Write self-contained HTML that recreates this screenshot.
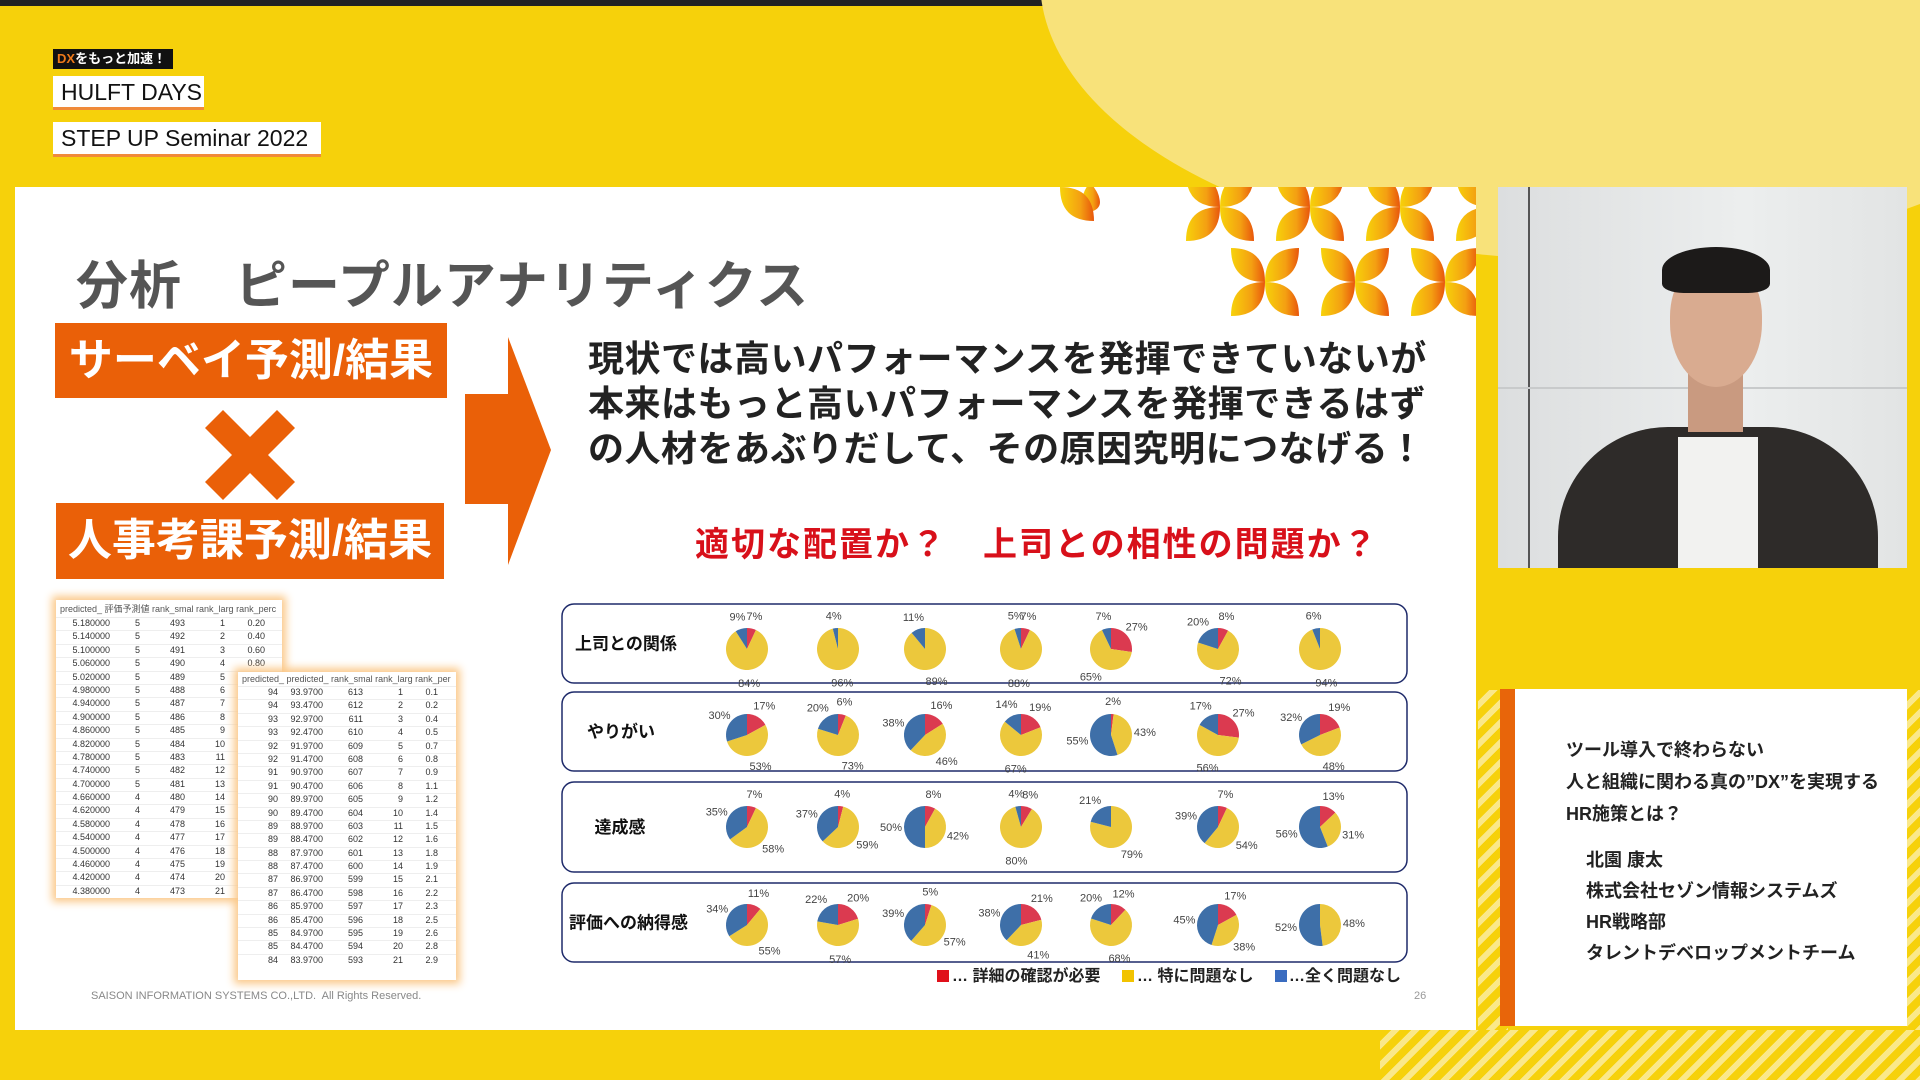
<!DOCTYPE html>
<html><head><meta charset="utf-8">
<style>
*{margin:0;padding:0;box-sizing:border-box}
body{width:1920px;height:1080px;overflow:hidden;position:relative;background:#f6d10b;font-family:"Liberation Sans","Noto Sans CJK JP",sans-serif}
.abs{position:absolute}
.jp{font-family:"Liberation Sans","Noto Sans CJK JP",sans-serif}
</style></head><body>
<div class="abs" style="left:0;top:0;width:1920px;height:6px;background:#222"></div>
<div class="abs" style="left:1040px;top:-300px;width:1100px;height:560px;border-radius:50%;background:#f8e27a"></div>
<div class="abs" style="left:1380px;top:1030px;width:540px;height:50px;background:repeating-linear-gradient(135deg,#f6d10b 0 8px,#fae88a 8px 14px)"></div>
<div class="abs" style="left:1478px;top:690px;width:30px;height:340px;background:repeating-linear-gradient(135deg,#f6d10b 0 8px,#fae88a 8px 14px)"></div>
<div class="abs" style="left:1907px;top:690px;width:13px;height:340px;background:repeating-linear-gradient(135deg,#f6d10b 0 8px,#fae88a 8px 14px)"></div>

<!-- header -->
<div class="abs" style="left:53px;top:49px;width:120px;height:20px;background:#111;color:#fff;font-size:13px;font-weight:bold;line-height:20px;padding-left:4px"><span style="color:#f07a1a">DX</span>をもっと加速！</div>
<div class="abs" style="left:53px;top:76px;width:151px;height:34px;background:#fff;border-bottom:3px solid #f08a3a;font-size:23px;line-height:32px;padding-left:8px;color:#111">HULFT DAYS</div>
<div class="abs" style="left:53px;top:122px;width:268px;height:35px;background:#fff;border-bottom:3px solid #f08a3a;font-size:23px;line-height:33px;padding-left:8px;color:#111">STEP UP Seminar 2022</div>

<!-- slide -->
<div class="abs" style="left:15px;top:187px;width:1461px;height:843px;background:#fff"></div>
<svg class="abs" style="left:1060px;top:187px" width="416" height="132" viewBox="0 0 416 132">
<defs><linearGradient id="pg" x1="0" x2="1"><stop offset="0" stop-color="#f7d20a"/><stop offset="0.6" stop-color="#f4a012"/><stop offset="1" stop-color="#e8560c"/></linearGradient>
<clipPath id="cp"><rect width="416" height="132"/></clipPath></defs>
<g fill="url(#pg)" clip-path="url(#cp)">
<path d="M20 0 Q40 25 20 30 Q5 20 20 0Z" transform="translate(10,-5)"/>
<g id="fl">
<path d="M0 0 Q0 -34 -34 -34 Q-34 0 0 0Z"/><path d="M0 0 Q34 0 34 -34 Q0 -34 0 0Z"/>
<path d="M0 0 Q-34 0 -34 34 Q0 34 0 0Z"/><path d="M0 0 Q0 34 34 34 Q34 0 0 0Z"/>
</g>
<use href="#fl" transform="translate(160,20)"/><use href="#fl" transform="translate(250,20)"/><use href="#fl" transform="translate(340,20)"/><use href="#fl" transform="translate(430,20)"/>
<use href="#fl" transform="translate(205,95)"/><use href="#fl" transform="translate(295,95)"/><use href="#fl" transform="translate(385,95)"/>
</g>
</svg>

<div class="abs jp" style="left:76px;top:244px;font-size:52px;color:#555;font-weight:bold;letter-spacing:1px">分析　ピープルアナリティクス</div>
<div class="abs jp" style="left:55px;top:323px;width:392px;height:75px;background:#ea6008;color:#fff;font-size:44px;font-weight:bold;text-align:center;line-height:75px">サーベイ予測/結果</div>
<div class="abs jp" style="left:56px;top:503px;width:388px;height:76px;background:#ea6008;color:#fff;font-size:44px;font-weight:bold;text-align:center;line-height:76px">人事考課予測/結果</div>
<svg class="abs" style="left:205px;top:410px" width="90" height="90" viewBox="0 0 90 90"><path d="M0 18 L18 0 L45 27 L72 0 L90 18 L63 45 L90 72 L72 90 L45 63 L18 90 L0 72 L27 45Z" fill="#ea6008"/></svg>
<svg class="abs" style="left:465px;top:337px" width="88" height="228" viewBox="0 0 88 228"><path d="M0 57 L43 57 L43 0 L86 113 L43 228 L43 167 L0 167Z" fill="#ea6008"/></svg>

<div class="abs jp" style="left:588px;top:336px;font-size:36px;font-weight:bold;color:#222;line-height:45px;letter-spacing:0.5px;white-space:nowrap">現状では高いパフォーマンスを発揮できていないが<br>本来はもっと高いパフォーマンスを発揮できるはず<br>の人材をあぶりだして、その原因究明につなげる！</div>
<div class="abs jp" style="left:695px;top:517px;font-size:34px;font-weight:bold;color:#d8101a;letter-spacing:2px">適切な配置か？　上司との相性の問題か？</div>

<!-- spreadsheets -->
<div id="ss1" class="abs" style="left:56px;top:600px;width:226px;height:298px;background:#fff;box-shadow:0 0 8px 4px #fbc98a;font-size:9px;color:#333;overflow:hidden"></div>
<div id="ss2" class="abs" style="left:238px;top:672px;width:218px;height:308px;background:#fff;box-shadow:0 0 8px 4px #fbc98a;font-size:9px;color:#333;overflow:hidden"></div>

<svg id="ch" class="abs" style="left:0;top:0" width="1920" height="1080"></svg>

<div class="abs jp" style="left:91px;top:990px;font-size:11px;color:#888">SAISON INFORMATION SYSTEMS CO.,LTD.&nbsp; All Rights Reserved.</div>
<div class="abs" style="left:1414px;top:990px;font-size:11px;color:#999">26</div>

<!-- video -->
<div class="abs" style="left:1498px;top:187px;width:409px;height:381px;background:linear-gradient(90deg,#dcdedf,#eceeee 60%,#e2e4e4);overflow:hidden">
<div class="abs" style="left:30px;top:0;width:2px;height:381px;background:#555"></div>
<div class="abs" style="left:0;top:200px;width:409px;height:2px;background:#c8cacb"></div>
<div class="abs" style="left:60px;top:240px;width:320px;height:200px;background:#2e2b29;border-radius:110px 110px 0 0"></div>
<div class="abs" style="left:180px;top:250px;width:80px;height:140px;background:#f2f2f0"></div>
<div class="abs" style="left:190px;top:170px;width:55px;height:75px;background:#c99a80"></div>
<div class="abs" style="left:172px;top:72px;width:92px;height:128px;background:#d9ab90;border-radius:45% 45% 50% 50%"></div>
<div class="abs" style="left:164px;top:60px;width:108px;height:46px;background:#1c1a19;border-radius:50% 50% 20% 20%"></div>
</div>

<!-- info box -->
<div class="abs" style="left:1500px;top:689px;width:407px;height:337px;background:#fff"></div>
<div class="abs" style="left:1500px;top:689px;width:15px;height:337px;background:#e8650a"></div>
<div class="abs jp" style="left:1566px;top:734px;font-size:18px;line-height:32px;color:#222;font-weight:bold">ツール導入で終わらない<br>人と組織に関わる真の”DX”を実現する<br>HR施策とは？</div>
<div class="abs jp" style="left:1586px;top:845px;font-size:18px;line-height:31px;color:#222;font-weight:bold">北園 康太<br>株式会社セゾン情報システムズ<br>HR戦略部<br>タレントデベロップメントチーム</div>

<script>
var ns="http://www.w3.org/2000/svg",svg=document.getElementById("ch");
function el(t,a,txt){var e=document.createElementNS(ns,t);for(var k in a)e.setAttribute(k,a[k]);if(txt!=null)e.textContent=txt;svg.appendChild(e);return e;}
var rows=[{y:604,h:79,cy:649,lab:"上司との関係",lx:575,anc:"start"},{y:692,h:79,cy:735,lab:"やりがい",lx:621,anc:"middle"},{y:782,h:90,cy:827,lab:"達成感",lx:620,anc:"middle"},{y:883,h:79,cy:925,lab:"評価への納得感",lx:569,anc:"start"}];
var data=[[[7,84,9],[0,96,4],[0,89,11],[7,88,5],[27,65,7],[8,72,20],[0,94,6]],
[[17,53,30],[6,73,20],[16,46,38],[19,67,14],[2,43,55],[27,56,17],[19,48,32]],
[[7,58,35],[4,59,37],[8,42,50],[8,80,4],[0,79,21],[7,54,39],[13,31,56]],
[[11,55,34],[20,57,22],[5,57,39],[21,41,38],[12,68,20],[17,38,45],[0,48,52]]];
var xs=[747,838,925,1021,1111,1218,1320],cols=["#db3a50","#ecc83c","#3e6fa8"],R=21;
rows.forEach(function(r,i){
 el("rect",{x:562,y:r.y,width:845,height:r.h,rx:12,fill:"#fff",stroke:"#1e2a6a","stroke-width":1.5});
 el("text",{x:r.lx,y:r.y+r.h/2+6,"font-size":17,"font-weight":"bold","text-anchor":r.anc,fill:"#111","font-family":"Liberation Sans,Noto Sans CJK JP,sans-serif"},r.lab);
 data[i].forEach(function(d,j){
  var cx=xs[j],cy=r.cy,tot=d[0]+d[1]+d[2],a=0;
  d.forEach(function(v,k){
   if(!v)return;var a0=a,a1=a+v/tot*2*Math.PI;a=a1;
   var x0=cx+R*Math.sin(a0),y0=cy-R*Math.cos(a0),x1=cx+R*Math.sin(a1),y1=cy-R*Math.cos(a1);
   if(v/tot>0.999){el("circle",{cx:cx,cy:cy,r:R,fill:cols[k]});}
   else el("path",{d:"M"+cx+" "+cy+"L"+x0+" "+y0+"A"+R+" "+R+" 0 "+((a1-a0)>Math.PI?1:0)+" 1 "+x1+" "+y1+"Z",fill:cols[k]});
   var m=(a0+a1)/2,lr=R+13;
   el("text",{x:cx+lr*Math.sin(m),y:cy-lr*Math.cos(m)+4,"font-size":11,"text-anchor":"middle",fill:"#444"},v+"%");
  });
 });
});
el("rect",{x:937,y:970,width:12,height:12,fill:"#e0101a"});
el("text",{x:952,y:981,"font-size":16,fill:"#222","font-weight":"bold"},"… 詳細の確認が必要");
el("rect",{x:1122,y:970,width:12,height:12,fill:"#f2c300"});
el("text",{x:1137,y:981,"font-size":16,fill:"#222","font-weight":"bold"},"… 特に問題なし");
el("rect",{x:1275,y:970,width:12,height:12,fill:"#3a6cc0"});
el("text",{x:1289,y:981,"font-size":16,fill:"#222","font-weight":"bold"},"…全く問題なし");
function ss(id,hdr,n,f){var h='<div style="white-space:nowrap;padding:2px 4px;color:#555">'+hdr+'</div>';for(var i=0;i<n;i++)h+='<div style="white-space:nowrap;height:13.4px;padding:0 4px;border-top:1px solid #eee">'+f(i)+'</div>';document.getElementById(id).innerHTML=h;}
ss("ss1","predicted_ 評価予測値 rank_smal rank_larg rank_perc",21,function(i){return '<span style="display:inline-block;width:50px;text-align:right">'+(5.18-i*0.04).toFixed(6)+'</span><span style="display:inline-block;width:30px;text-align:right">'+(i<13?5:4)+'</span><span style="display:inline-block;width:45px;text-align:right">'+(493-i)+'</span><span style="display:inline-block;width:40px;text-align:right">'+(i+1)+'</span><span style="display:inline-block;width:40px;text-align:right">'+(0.2+i*0.2).toFixed(2)+'</span>';});
ss("ss2","predicted_ predicted_ rank_smal rank_larg rank_per",21,function(i){return '<span style="display:inline-block;width:36px;text-align:right">'+(94-Math.floor(i/2))+'</span><span style="display:inline-block;width:45px;text-align:right">'+(93.97-i*0.5).toFixed(4)+'</span><span style="display:inline-block;width:40px;text-align:right">'+(613-i)+'</span><span style="display:inline-block;width:40px;text-align:right">'+(i+1)+'</span><span style="display:inline-block;width:35px;text-align:right">'+(0.1+i*0.14).toFixed(1)+'</span>';});
</script>
</body></html>
